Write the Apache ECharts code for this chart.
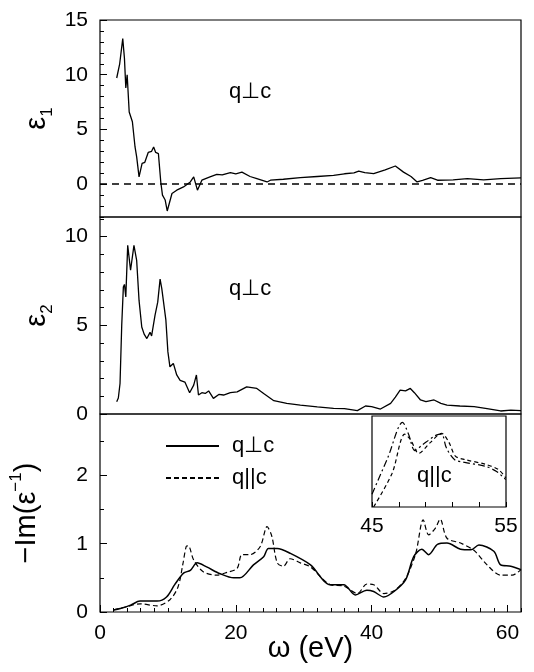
<!DOCTYPE html>
<html>
<head>
<meta charset="utf-8">
<script src="https://cdn.jsdelivr.net/npm/echarts@6/dist/echarts.min.js"></script>
<style>
  html, body { margin: 0; padding: 0; background: #fff; }
  #chart { width: 534px; height: 672px; }
</style>
</head>
<body>
<div id="chart"></div>
<script>
// values: [omega (eV), value]
const eps1Perp = [
  [2.46, 9.7], [2.9, 11.0], [3.35, 13.3], [3.6, 11.5], [3.8, 8.8], [4.0, 10.0], [4.3, 6.6],
  [4.77, 5.7], [5.16, 3.4], [5.4, 2.5], [5.75, 0.66], [6.2, 1.9], [6.6, 2.0], [7.1, 2.9],
  [7.6, 3.0], [7.9, 3.4], [8.2, 2.9], [8.6, 2.8], [8.95, 0.2], [9.2, -1.0], [9.6, -1.45],
  [9.9, -2.45], [10.6, -0.85], [11.3, -0.55], [12.3, -0.25], [13.3, 0.2], [13.8, 0.66],
  [14.35, -0.55], [15.0, 0.36], [16.2, 0.66], [17.2, 0.9], [18.0, 0.85], [19.2, 1.06],
  [20.0, 0.95], [20.9, 1.1], [22.1, 0.7], [23.1, 0.5], [24.6, 0.2], [25.1, 0.36], [27, 0.45],
  [29.5, 0.6], [32, 0.7], [34.4, 0.8], [36, 0.95], [37.4, 1.03], [38.1, 1.2], [39, 1.05],
  [40.3, 0.97], [42, 1.3], [43.5, 1.66], [44.7, 1.1], [45.8, 0.7], [46.7, 0.2], [47.5, 0.35],
  [48.7, 0.6], [49.7, 0.36], [52, 0.4], [54.1, 0.5], [56.5, 0.4], [59, 0.5], [62, 0.57]
]

const eps2Perp = [
  [2.46, 0.69], [2.7, 0.9], [2.95, 1.72], [3.2, 5.0], [3.44, 7.15], [3.6, 7.3], [3.8, 6.6],
  [4.08, 9.5], [4.5, 8.1], [5.0, 9.5], [5.4, 8.65], [5.75, 6.4], [6.15, 4.9], [6.5, 4.5],
  [6.9, 4.25], [7.37, 4.6], [7.6, 4.4], [8.1, 5.56], [8.5, 6.3], [8.85, 7.6], [9.1, 7.06],
  [9.3, 7.15], [9.7, 5.3], [10.0, 3.5], [10.3, 2.66], [10.8, 2.85], [11.3, 2.2], [11.8, 1.9],
  [12.5, 1.8], [13.2, 1.2], [13.8, 1.63], [14.2, 2.2], [14.5, 1.07], [15.0, 1.2], [15.5, 1.16],
  [16.0, 1.3], [16.7, 0.88], [17.5, 1.1], [18.2, 1.07], [19.2, 1.2], [20.2, 1.25], [21.6, 1.53],
  [22.1, 1.5], [23.1, 1.44], [24.1, 1.16], [25.6, 0.75], [27.5, 0.6], [29.5, 0.5], [32, 0.4],
  [34.4, 0.32], [36, 0.3], [37.9, 0.19], [39.1, 0.45], [40, 0.42], [41.3, 0.28], [42.8, 0.6],
  [43.5, 0.95], [44.2, 1.35], [45.0, 1.3], [45.7, 1.44], [46.3, 1.2], [47.2, 0.79], [48, 0.7],
  [49.2, 0.79], [50.2, 0.6], [51.1, 0.5], [53, 0.45], [55.1, 0.41], [57, 0.3], [59, 0.17],
  [60.5, 0.22], [62, 0.19]
]

const lossPerp = [
  [2, 0.03], [3, 0.05], [4.5, 0.1], [5.9, 0.16], [7, 0.16], [8.4, 0.16], [9.8, 0.22], [11, 0.4],
  [12.3, 0.57], [13.3, 0.61], [14.3, 0.72], [15.7, 0.66], [17.7, 0.56], [19.7, 0.5], [20.6, 0.5],
  [22.6, 0.69], [24.1, 0.81], [24.8, 0.93], [26.1, 0.93], [28, 0.86], [31, 0.69], [33.9, 0.4],
  [35.9, 0.4], [37.6, 0.25], [39.3, 0.32], [40.3, 0.3], [41.8, 0.22], [43.3, 0.3], [45, 0.47],
  [46.2, 0.81], [47.4, 0.92], [48.4, 0.84], [49.7, 0.99], [51.1, 1.01], [53.1, 0.92],
  [54.6, 0.91], [55.8, 0.98], [58, 0.89], [59, 0.69], [60.5, 0.67], [62, 0.62]
]

const lossPar = [
  [2, 0.03], [4, 0.08], [5.9, 0.12], [8.4, 0.09], [10.3, 0.18], [11.5, 0.37], [12.2, 0.7],
  [12.7, 0.96], [13.0, 0.97], [13.8, 0.76], [15.2, 0.59], [17.2, 0.54], [18.7, 0.58],
  [20.2, 0.64], [20.9, 0.84], [22.1, 0.84], [23.6, 0.96], [24.6, 1.25], [25.3, 1.11],
  [26.1, 0.72], [27, 0.67], [28, 0.78], [29.5, 0.72], [31, 0.66], [33.9, 0.4], [35.9, 0.38],
  [37.9, 0.27], [39.3, 0.41], [40.3, 0.4], [41.8, 0.27], [43.3, 0.31], [45, 0.49], [46.5, 0.86],
  [47.6, 1.35], [48.4, 1.13], [49.4, 1.23], [50.1, 1.36], [51.1, 1.08], [53.1, 1.01],
  [55.1, 0.9], [57, 0.69], [59, 0.54], [60.7, 0.54], [62, 0.62]
]

// inset, arbitrary units
const insetA = [
  [45.0, 0.14], [46.2, 0.55], [47.28, 0.93], [47.73, 0.8], [48.2, 0.62], [48.82, 0.69],
  [49.8, 0.79], [50.2, 0.8], [50.55, 0.65], [51.17, 0.52], [51.92, 0.49], [53.4, 0.45],
  [54.3, 0.39], [54.98, 0.3]
]
const insetB = [
  [45.12, 0.0], [46.5, 0.37], [47.44, 0.8], [47.87, 0.74], [48.49, 0.59], [49.36, 0.71],
  [50.19, 0.81], [50.74, 0.71], [51.22, 0.56], [51.96, 0.52], [53.45, 0.47], [54.45, 0.41],
  [54.98, 0.32]
]

const xTicks = [0, 20, 40, 60]
const eps1Ticks = [0, 5, 10, 15]
const eps2Ticks = [0, 5, 10]
const lossTicks = [0, 1, 2]
const insetTicks = [45, 47, 49, 51, 53, 55]
const insetLabels = [45, 55]

const FONT = 'Liberation Sans, Arial, sans-serif'
const black = '#000'
const TICK_FONT = 21

const chart = echarts.init(document.getElementById('chart'))

function minorY(grid, min, max, step) {
  return {
    gridIndex: grid, type: 'value', min: min, max: max, interval: step,
    position: 'left', offset: 0,
    axisLine: { show: false },
    axisTick: { inside: true, length: 4, lineStyle: { color: black } },
    axisLabel: { show: false },
    splitLine: { show: false }
  }
}

function majorY(grid, min, max, ticks, name, nameGap) {
  return {
    gridIndex: grid, type: 'value', min: min, max: max,
    position: 'left', offset: 0,
    axisLine: { show: false },
    axisTick: { inside: true, length: 7, customValues: ticks, lineStyle: { color: black } },
    axisLabel: { customValues: ticks, color: black, fontSize: TICK_FONT, fontFamily: FONT, margin: 12 },
    splitLine: { show: false },
    name: name,
    nameLocation: 'middle',
    nameRotate: 90,
    nameGap: nameGap,
    nameMoveOverlap: false,
    nameTextStyle: {
      color: black,
      fontFamily: FONT,
      rich: {
        n: { fontSize: 29, fontFamily: FONT, color: black, lineHeight: 38 },
        sub: { fontSize: 17, fontFamily: FONT, color: black, verticalAlign: 'bottom', lineHeight: 17 },
        sup: { fontSize: 17, fontFamily: FONT, color: black, verticalAlign: 'top', lineHeight: 17 }
      }
    }
  }
}

const grids = [
  { left: 100, top: 20, width: 421, height: 197 },
  { left: 100, top: 217, width: 421, height: 197 },
  { left: 100, top: 414, width: 421, height: 198 },
  { left: 372, top: 416, width: 134, height: 91 }
].map(g => Object.assign({
  show: true, borderColor: black, borderWidth: 1.2, backgroundColor: 'transparent',
  containLabel: false, outerBoundsMode: 'none'
}, g))

const hiddenX = g => ({ gridIndex: g, type: 'value', min: 0, max: 62, position: 'bottom', show: false })

chart.setOption({
  animation: false,
  textStyle: { fontFamily: FONT },
  grid: grids,
  legend: {
    orient: 'vertical',
    left: 160,
    top: 430,
    itemWidth: 53,
    itemHeight: 14,
    itemGap: 10,
    itemStyle: { opacity: 0 },
    data: ['q⊥c', 'q||c'],
    textStyle: { fontSize: 22, color: black, fontFamily: FONT, padding: [0, 0, 0, 8] }
  },
  xAxis: [
    hiddenX(0),
    hiddenX(1),
    {
      gridIndex: 2, type: 'value', min: 0, max: 62, interval: 2,
      position: 'bottom', offset: 0,
      axisLine: { show: false },
      axisTick: { inside: true, length: 4, lineStyle: { color: black } },
      axisLabel: { show: false },
      splitLine: { show: false }
    },
    {
      gridIndex: 2, type: 'value', min: 0, max: 62,
      position: 'bottom', offset: 0,
      axisLine: { show: false },
      axisTick: { inside: true, length: 7, customValues: xTicks, lineStyle: { color: black } },
      axisLabel: { customValues: xTicks, color: black, fontSize: TICK_FONT, fontFamily: FONT, margin: 11 },
      splitLine: { show: false },
      name: 'ω (eV)',
      nameLocation: 'middle',
      nameGap: 22,
      nameMoveOverlap: false,
      nameTextStyle: { fontSize: 29, color: black, fontFamily: FONT, verticalAlign: 'top' }
    },
    {
      gridIndex: 3, type: 'value', min: 45, max: 55,
      position: 'bottom', offset: 0,
      axisLine: { show: false },
      axisTick: { inside: true, length: 5, customValues: insetTicks, lineStyle: { color: black } },
      axisLabel: { customValues: insetLabels, color: black, fontSize: TICK_FONT, fontFamily: FONT, margin: 9 },
      splitLine: { show: false }
    }
  ],
  yAxis: [
    minorY(0, -3, 15, 1),
    majorY(0, -3, 15, eps1Ticks, '{n|ε}{sub|1}', 44),
    minorY(1, 0, 11.1, 1),
    majorY(1, 0, 11.1, eps2Ticks, '{n|ε}{sub|2}', 44),
    minorY(2, 0, 2.9, 0.5),
    majorY(2, 0, 2.9, lossTicks, '{n|−Im(ε}{sup|−1}{n|)}', 54),
    { gridIndex: 3, type: 'value', min: 0, max: 1, position: 'left', show: false }
  ],
  graphic: [
    { type: 'text', left: 229, top: 81, style: { text: 'q⊥c', fontSize: 22, fontFamily: FONT, fill: black } },
    { type: 'text', left: 229, top: 278, style: { text: 'q⊥c', fontSize: 22, fontFamily: FONT, fill: black } },
    { type: 'text', left: 417, top: 465, style: { text: 'q||c', fontSize: 22, fontFamily: FONT, fill: black } }
  ],
  series: [
    {
      name: 'eps1', type: 'line', xAxisIndex: 0, yAxisIndex: 0, data: eps1Perp,
      symbol: 'none', lineStyle: { color: black, width: 1.3 },
      markLine: {
        silent: true, symbol: 'none', label: { show: false },
        lineStyle: { color: black, type: [7, 5], width: 1.6 },
        data: [{ yAxis: 0 }]
      }
    },
    {
      name: 'eps2', type: 'line', xAxisIndex: 1, yAxisIndex: 2, data: eps2Perp,
      symbol: 'none', lineStyle: { color: black, width: 1.3 }
    },
    {
      name: 'q⊥c', type: 'line', xAxisIndex: 2, yAxisIndex: 4, data: lossPerp,
      symbol: 'none', smooth: 0.3, itemStyle: { color: black },
      lineStyle: { color: black, width: 1.5 }
    },
    {
      name: 'q||c', type: 'line', xAxisIndex: 2, yAxisIndex: 4, data: lossPar,
      symbol: 'none', smooth: 0.3, itemStyle: { color: black },
      lineStyle: { color: black, width: 1.2, type: [5, 3] }
    },
    {
      name: 'insetA', type: 'line', xAxisIndex: 4, yAxisIndex: 6, data: insetA,
      symbol: 'none', smooth: 0.3, lineStyle: { color: black, width: 1.2, type: [7, 3, 2, 3] }
    },
    {
      name: 'insetB', type: 'line', xAxisIndex: 4, yAxisIndex: 6, data: insetB,
      symbol: 'none', smooth: 0.3, lineStyle: { color: black, width: 1.2, type: [4, 3] }
    }
  ]
})
</script>
</body>
</html>
